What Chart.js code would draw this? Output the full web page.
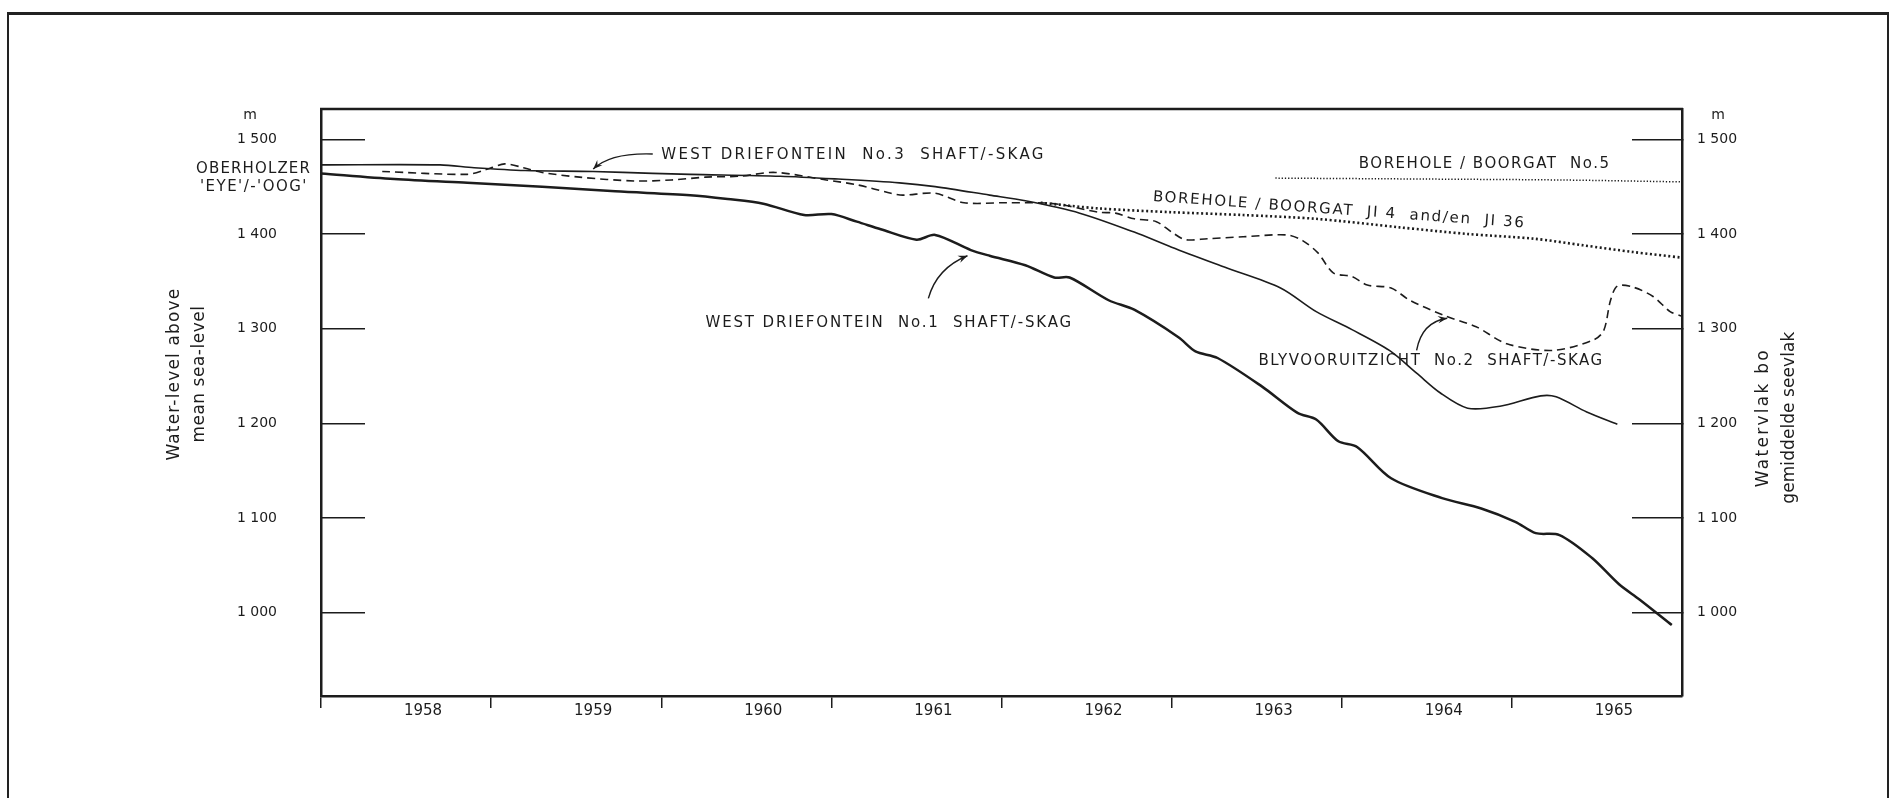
<!DOCTYPE html>
<html>
<head>
<meta charset="utf-8">
<script src="https://cdn.jsdelivr.net/npm/chart.js@4.4.1/dist/chart.umd.min.js"></script>
<style>
  html, body { margin: 0; padding: 0; background: #fff; overflow: hidden; }
  #wrap { position: relative; width: 1897px; height: 798px; }
  #frame { position: absolute; left: 7px; top: 12px; width: 1878px; height: 820px;
           border-left: 2px solid #222; border-top: 3px solid #222; border-right: 2px solid #222; }
  canvas { position: absolute; left: 0; top: 0; }
</style>
</head>
<body>
<div id="wrap">
  <div id="frame"></div>
  <canvas id="chart" width="1897" height="798"></canvas>
</div>
<script>
// axis ticks
const yearTicks = [1958, 1959, 1960, 1961, 1962, 1963, 1964, 1965];
const levelTicks = [1000, 1100, 1200, 1300, 1400, 1500];

// West Driefontein No.3 shaft (solid)
const wd3Years = [1958.0, 1958.7, 1958.9, 1959.2, 1959.6, 1959.95, 1960.17, 1960.7, 1961.04, 1961.4, 1961.61, 1961.93,
  1962.14, 1962.46, 1962.78, 1963.0, 1963.31, 1963.64, 1963.85, 1964.06, 1964.28, 1964.44, 1964.58, 1964.74,
  1964.93, 1965.17, 1965.26, 1965.44, 1965.62];
const wd3Levels = [1473, 1473, 1470, 1467, 1466, 1464, 1463, 1461, 1458, 1454, 1450, 1441,
  1435, 1422, 1402, 1386, 1365, 1343, 1318, 1299, 1277, 1253, 1232, 1216,
  1218, 1229, 1228, 1212, 1199];

// West Driefontein No.1 shaft (heavy line)
const wd1Years = [1958.0, 1958.43, 1958.86, 1959.3, 1959.73, 1960.17, 1960.39, 1960.6, 1960.84, 1961.0, 1961.15,
  1961.29, 1961.5, 1961.61, 1961.82, 1961.93, 1962.14, 1962.31, 1962.4, 1962.63, 1962.78, 1963.04, 1963.14,
  1963.27, 1963.53, 1963.74, 1963.85, 1963.98, 1964.09, 1964.29, 1964.59, 1964.82, 1965.02, 1965.14, 1965.28,
  1965.47, 1965.63, 1965.75, 1965.94];
const wd1Levels = [1464, 1458, 1454, 1450, 1445, 1441, 1437, 1432, 1420, 1421, 1413,
  1405, 1394, 1399, 1383, 1377, 1367, 1354, 1354, 1330, 1320, 1291, 1276,
  1269, 1239, 1211, 1204, 1181, 1175, 1142, 1121, 1110, 1096, 1084, 1082,
  1058, 1030, 1014, 987];

// Blyvooruitzicht No.2 shaft (dashed)
const blyYears = [1958.36, 1958.86, 1958.97, 1959.08, 1959.19, 1959.3, 1959.52, 1959.84, 1960.06, 1960.26, 1960.46,
  1960.67, 1960.97, 1961.15, 1961.35, 1961.42, 1961.61, 1961.78, 1962.03, 1962.31, 1962.57, 1962.67, 1962.78,
  1962.91, 1963.0, 1963.08, 1963.21, 1963.42, 1963.68, 1963.77, 1963.86, 1963.95, 1964.06, 1964.15, 1964.29,
  1964.4, 1964.6, 1964.79, 1964.97, 1965.24, 1965.48, 1965.54, 1965.58, 1965.62, 1965.71, 1965.83, 1965.93, 1966.0];
const blyLevels = [1466, 1463, 1468, 1474, 1470, 1465, 1460, 1456, 1457, 1460, 1461,
  1465, 1457, 1452, 1443, 1441, 1443, 1433, 1433, 1432, 1423, 1422, 1416,
  1413, 1402, 1394, 1395, 1397, 1399, 1393, 1380, 1359, 1355, 1346, 1343,
  1330, 1314, 1302, 1284, 1277, 1288, 1298, 1330, 1345, 1344, 1334, 1318, 1313];

// Borehole JI 4 and JI 36 (heavy dots)
const ji4Years = [1962.23, 1962.57, 1963.0, 1963.42, 1963.85, 1964.34, 1964.74, 1965.13, 1965.42, 1965.71, 1966.0];
const ji4Levels = [1433, 1427, 1423, 1420, 1416, 1407, 1400, 1395, 1388, 1381, 1375];

// Borehole No.5 (fine dots)
const bh5Years = [1963.61, 1964.5, 1965.3, 1966.0];
const bh5Levels = [1459, 1458, 1457, 1455];

const INK = '#1c1c1c';
const FONT = '"DejaVu Sans", sans-serif';

// notes written along the curves (data units)
const notes = [
  { text: 'WEST DRIEFONTEIN  No.3  SHAFT/-SKAG', x0: 1960.00, x1: 1962.26, y0: 1483, y1: 1483 },
  { text: 'WEST DRIEFONTEIN  No.1  SHAFT/-SKAG', x0: 1960.26, x1: 1962.42, y0: 1306, y1: 1306 },
  { text: 'BOREHOLE / BOORGAT  No.5', x0: 1964.10, x1: 1965.58, y0: 1474, y1: 1474 },
  { text: 'BOREHOLE / BOORGAT  JI 4  and/en  JI 36', x0: 1962.89, x1: 1965.08, y0: 1439, y1: 1411 },
  { text: 'BLYVOORUITZICHT  No.2  SHAFT/-SKAG', x0: 1963.51, x1: 1965.54, y0: 1266, y1: 1266 }
];
// pointer arrows: start, bend, tip (data units)
const pointers = [
  [[1959.95, 1484.5], [1959.70, 1486], [1959.60, 1468.5]],
  [[1961.57, 1332], [1961.62, 1364], [1961.80, 1377]],
  [[1964.44, 1277], [1964.47, 1307], [1964.62, 1311]]
];

function pts(xs, ys) {
  return xs.map((v, i) => ({ x: v, y: ys[i] }));
}

function spaced(v) {
  const s = String(v);
  return s.length > 3 ? s.slice(0, -3) + ' ' + s.slice(-3) : s;
}

// draw text stretched to a given width
function fitText(ctx, text, left, cy, width) {
  ctx.letterSpacing = '0px';
  const w = ctx.measureText(text).width;
  const n = [...text].length;
  ctx.letterSpacing = ((width - w) / n).toFixed(2) + 'px';
  ctx.textAlign = 'left';
  ctx.textBaseline = 'middle';
  ctx.fillText(text, left, cy);
  ctx.letterSpacing = '0px';
}

function drawArrow(ctx, p0, c, p1) {
  ctx.beginPath();
  ctx.moveTo(p0.x, p0.y);
  ctx.quadraticCurveTo(c.x, c.y, p1.x, p1.y);
  ctx.stroke();
  const a = Math.atan2(p1.y - c.y, p1.x - c.x);
  const L = 10, W = 0.38;
  ctx.beginPath();
  ctx.moveTo(p1.x, p1.y);
  ctx.lineTo(p1.x - L * Math.cos(a - W), p1.y - L * Math.sin(a - W));
  ctx.lineTo(p1.x - L * 0.6 * Math.cos(a), p1.y - L * 0.6 * Math.sin(a));
  ctx.lineTo(p1.x - L * Math.cos(a + W), p1.y - L * Math.sin(a + W));
  ctx.closePath();
  ctx.fill();
}

const overlay = {
  id: 'overlay',
  afterDraw(chart) {
    const { ctx, chartArea: ca } = chart;
    const x = chart.scales.x, y = chart.scales.y;
    const P = (d) => ({ x: x.getPixelForValue(d[0]), y: y.getPixelForValue(d[1]) });
    ctx.save();
    ctx.strokeStyle = INK;
    ctx.fillStyle = INK;

    // top edge of the plot box
    ctx.lineWidth = 2.5;
    ctx.beginPath();
    ctx.moveTo(ca.left - 1, ca.top);
    ctx.lineTo(ca.right + 1, ca.top);
    ctx.stroke();

    // curve notes
    ctx.font = '15px ' + FONT;
    notes.forEach(n => {
      const a = P([n.x0, n.y0]), b = P([n.x1, n.y1]);
      const ang = Math.atan2(b.y - a.y, b.x - a.x);
      ctx.save();
      ctx.translate(a.x, a.y);
      ctx.rotate(ang);
      fitText(ctx, n.text, 0, 0, Math.hypot(b.x - a.x, b.y - a.y));
      ctx.restore();
    });

    // Oberholzer eye, left of the axis
    fitText(ctx, 'OBERHOLZER', ca.left - 125, y.getPixelForValue(1468.5), 115);
    fitText(ctx, "'EYE'/-'OOG'", ca.left - 121, y.getPixelForValue(1449.5), 108);

    // pointers
    ctx.lineWidth = 1.4;
    pointers.forEach(p => drawArrow(ctx, P(p[0]), P(p[1]), P(p[2])));

    // unit marks
    ctx.font = '14px ' + FONT;
    ctx.textAlign = 'center';
    ctx.textBaseline = 'middle';
    ctx.fillText('m', ca.left - 71, y.getPixelForValue(1525));
    ctx.fillText('m', ca.right + 36, y.getPixelForValue(1525));

    // axis titles, both read upwards
    ctx.font = '17px ' + FONT;
    const titles = [
      ['Water-level above', ca.left - 146, 1252, 173],
      ['mean sea-level', ca.left - 121, 1252, 137],
      ['Watervlak bo', ca.right + 82, 1206, 139],
      ['gemiddelde seevlak', ca.right + 108, 1206, 172]
    ];
    titles.forEach(t => {
      ctx.save();
      ctx.translate(t[1], y.getPixelForValue(t[2]));
      ctx.rotate(-Math.PI / 2);
      fitText(ctx, t[0], -t[3] / 2, 0, t[3]);
      ctx.restore();
    });
    ctx.restore();
  }
};

Chart.defaults.font.family = FONT;
Chart.defaults.color = INK;

const lineBase = { pointRadius: 0, borderColor: INK, fill: false, tension: 0.3 };

new Chart(document.getElementById('chart'), {
  type: 'line',
  data: {
    datasets: [
      Object.assign({ label: 'West Driefontein No.3 shaft', data: pts(wd3Years, wd3Levels), borderWidth: 1.6 }, lineBase),
      Object.assign({ label: 'West Driefontein No.1 shaft', data: pts(wd1Years, wd1Levels), borderWidth: 2.5 }, lineBase),
      Object.assign({ label: 'Blyvooruitzicht No.2 shaft', data: pts(blyYears, blyLevels), borderWidth: 1.6, borderDash: [8, 5] }, lineBase),
      Object.assign({ label: 'Borehole JI 4 and JI 36', data: pts(ji4Years, ji4Levels), borderWidth: 2.6, borderDash: [2, 2.6] }, lineBase),
      Object.assign({ label: 'Borehole No.5', data: pts(bh5Years, bh5Levels), borderWidth: 1.5, borderDash: [1.3, 1.9] }, lineBase)
    ]
  },
  options: {
    responsive: false,
    animation: false,
    events: [],
    layout: { padding: { top: 109, left: 0, right: 0, bottom: 0 } },
    plugins: { legend: { display: false }, tooltip: { enabled: false } },
    scales: {
      x: {
        type: 'linear', position: 'bottom', min: 1958, max: 1966,
        afterFit: s => { s.height = 102; },
        afterBuildTicks: s => { s.ticks = yearTicks.map(v => ({ value: v })); },
        ticks: { callback: v => String(v), labelOffset: 102, padding: -6, maxRotation: 0, autoSkip: false, font: { size: 15 } },
        grid: { drawOnChartArea: false, drawTicks: true, tickLength: 12, color: INK, lineWidth: 1.5 },
        border: { display: true, color: INK, width: 2.5 }
      },
      y: {
        type: 'linear', position: 'left', min: 912, max: 1532,
        afterFit: s => { s.width = 321; },
        afterBuildTicks: s => { s.ticks = levelTicks.map(v => ({ value: v })); },
        ticks: { callback: v => spaced(v), padding: 88, font: { size: 14 } },
        grid: { drawOnChartArea: false, drawTicks: true, tickLength: -44, color: INK, lineWidth: 1.5 },
        border: { display: true, color: INK, width: 2.5 }
      },
      y2: {
        type: 'linear', position: 'right', min: 912, max: 1532,
        afterFit: s => { s.width = 215; },
        afterBuildTicks: s => { s.ticks = levelTicks.map(v => ({ value: v })); },
        ticks: { callback: v => spaced(v), padding: 65, font: { size: 14 } },
        grid: { drawOnChartArea: false, drawTicks: true, tickLength: -50, color: INK, lineWidth: 1.5 },
        border: { display: true, color: INK, width: 2.5 }
      }
    }
  },
  plugins: [overlay]
});
</script>
</body>
</html>
